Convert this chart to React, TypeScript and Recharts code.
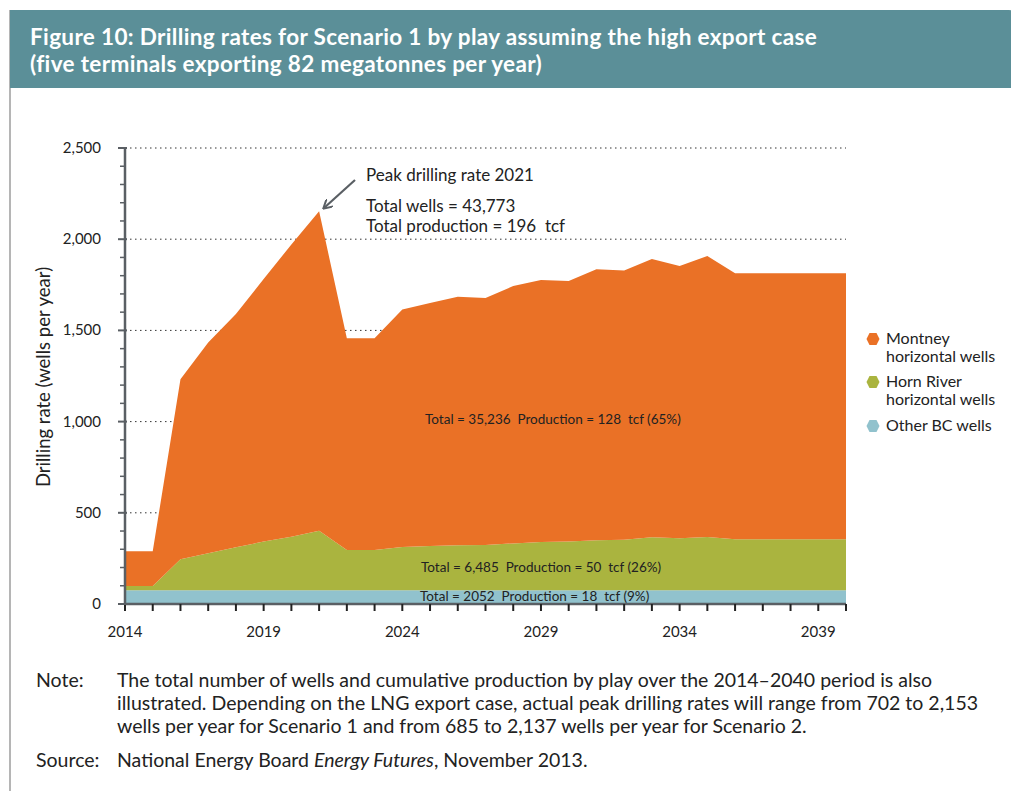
import React from 'react';
import { AreaChart, Area, XAxis, YAxis, CartesianGrid } from 'recharts';

// Drilling rate by play, wells per year
const years = [
  2014, 2015, 2016, 2017, 2018, 2019, 2020, 2021, 2022, 2023, 2024, 2025, 2026, 2027,
  2028, 2029, 2030, 2031, 2032, 2033, 2034, 2035, 2036, 2037, 2038, 2039, 2040,
];
const otherBC = [
  76, 76, 76, 76, 76, 76, 76, 76, 76, 76, 76, 76, 76, 76,
  76, 76, 76, 76, 76, 76, 76, 76, 76, 76, 76, 76, 76,
];
const hornRiver = [
  23, 23, 169, 202, 235, 266, 293, 326, 220, 220, 236, 242, 246, 248,
  256, 264, 266, 274, 276, 290, 284, 292, 279, 279, 279, 279, 279,
];
const montney = [
  190, 190, 987, 1155, 1279, 1440, 1602, 1751, 1161, 1161, 1303, 1332, 1363, 1354,
  1411, 1436, 1429, 1485, 1477, 1525, 1493, 1540, 1458, 1458, 1458, 1458, 1458,
];

const xLabels = [2014, 2019, 2024, 2029, 2034, 2039];
const yTicks = Array.from({ length: 26 }, (_, i) => i * 100);
const gridValues = [500, 1000, 1500, 2000, 2500];

const noteLines = [
  'The total number of wells and cumulative production by play over the 2014–2040 period is also',
  'illustrated. Depending on the LNG export case, actual peak drilling rates will range from 702 to 2,153',
  'wells per year for Scenario 1 and from 685 to 2,137 wells per year for Scenario 2.',
];

const ORANGE = '#EA7126';
const GREEN = '#AAB43F';
const BLUE = '#91C2CD';
const AXIS = '#5A5F64';
const TEAL = '#5B8F98';
const FONT = 'Lato, "Noto Sans", sans-serif';

const data = years.map((year, i) => ({
  year,
  other: otherBC[i],
  horn: hornRiver[i],
  montney: montney[i],
}));

const YTick = (props: any) => {
  const { x, y, payload } = props;
  const v = payload.value as number;
  const major = v % 500 === 0;
  return (
    <g>
      <line
        x1={x - (major ? 7 : 5)}
        x2={x + (major ? 2 : 0)}
        y1={y}
        y2={y}
        stroke={AXIS}
        strokeWidth={major ? 2 : 1.5}
      />
      {major && (
        <text x={x - 24} y={y} dy={5} textAnchor="end" fontSize={15} fill="#222" fontFamily={FONT}>
          {v.toLocaleString('en-US')}
        </text>
      )}
    </g>
  );
};

const XTick = (props: any) => {
  const { x, y, payload } = props;
  const v = payload.value as number;
  return (
    <g>
      <line x1={x} x2={x} y1={y} y2={y + 7} stroke="#222" strokeWidth={2} />
      {xLabels.includes(v) && (
        <text x={x} y={y + 33} textAnchor="middle" fontSize={15} fill="#222" fontFamily={FONT}>
          {v}
        </text>
      )}
    </g>
  );
};

const Hex = ({ color }: { color: string }) => (
  <svg width={14} height={14} viewBox="0 0 14 14" style={{ position: 'absolute', left: 0, top: 3 }}>
    <polygon points="3.5,1 10.5,1 13.5,7 10.5,13 3.5,13 0.5,7" fill={color} />
  </svg>
);

const legendItems = [
  { label: ['Montney', 'horizontal wells'], color: ORANGE, top: 321 },
  { label: ['Horn River', 'horizontal wells'], color: GREEN, top: 364 },
  { label: ['Other BC wells'], color: BLUE, top: 408 },
];

export default function App() {
  return (
    <div
      style={{
        position: 'relative',
        width: 1011,
        height: 783,
        fontFamily: FONT,
        color: '#222',
        overflow: 'hidden',
      }}
    >
      {/* frame line */}
      <div style={{ position: 'absolute', left: 1, top: 2, width: 1.5, height: 781, background: '#b5b5b5' }} />
      {/* title band */}
      <div
        style={{
          position: 'absolute',
          left: 2,
          top: 2,
          width: 1009,
          height: 78,
          background: TEAL,
          borderTopRightRadius: 10,
          color: '#fff',
          fontWeight: 700,
          fontSize: 22.5,
          letterSpacing: 0.35,
          lineHeight: '27px',
          padding: '13px 0 0 20px',
          boxSizing: 'border-box',
          whiteSpace: 'nowrap',
        }}
      >
        <div>Figure 10: Drilling rates for Scenario 1 by play assuming the high export case</div>
        <div>(five terminals exporting 82 megatonnes per year)</div>
      </div>

      <div style={{ position: 'absolute', left: 0, top: 0 }}>
        <AreaChart width={1011} height={700} data={data} margin={{ top: 140, right: 173, bottom: 74, left: 0 }}>
          <CartesianGrid
            horizontal
            vertical={false}
            horizontalValues={gridValues}
            stroke="#333"
            strokeDasharray="1.5 3.5"
          />
          <XAxis
            dataKey="year"
            type="number"
            domain={[2014, 2040]}
            ticks={years}
            interval={0}
            height={30}
            tickSize={0}
            tickMargin={0}
            tickLine={false}
            axisLine={{ stroke: AXIS, strokeWidth: 2.5 }}
            tick={<XTick />}
          />
          <YAxis
            type="number"
            domain={[0, 2500]}
            ticks={yTicks}
            interval={0}
            width={117}
            tickSize={0}
            tickMargin={0}
            tickLine={false}
            axisLine={{ stroke: AXIS, strokeWidth: 2.5 }}
            tick={<YTick />}
          />
          <Area
            type="linear"
            dataKey="other"
            stackId="a"
            stroke="none"
            fill={BLUE}
            fillOpacity={1}
            isAnimationActive={false}
          />
          <Area
            type="linear"
            dataKey="horn"
            stackId="a"
            stroke="none"
            fill={GREEN}
            fillOpacity={1}
            isAnimationActive={false}
          />
          <Area
            type="linear"
            dataKey="montney"
            stackId="a"
            stroke="none"
            fill={ORANGE}
            fillOpacity={1}
            isAnimationActive={false}
          />
        </AreaChart>
      </div>

      {/* y axis title */}
      <div style={{ position: 'absolute', left: 35, top: 369, width: 0, height: 0 }}>
        <div
          style={{
            position: 'absolute',
            transform: 'translate(-50%, -50%) rotate(-90deg)',
            whiteSpace: 'nowrap',
            fontSize: 18.5,
          }}
        >
          Drilling rate (wells per year)
        </div>
      </div>

      {/* peak annotation */}
      <svg width={1011} height={700} style={{ position: 'absolute', left: 0, top: 0, pointerEvents: 'none' }}>
        <defs>
          <marker id="ah" markerWidth="10" markerHeight="10" refX="8" refY="5" orient="auto" markerUnits="userSpaceOnUse">
            <path d="M0,0 L9,5 L0,10" fill="none" stroke={AXIS} strokeWidth={2} />
          </marker>
        </defs>
        <line x1={347} y1={172} x2={316} y2={200} stroke={AXIS} strokeWidth={2.2} markerEnd="url(#ah)" />
      </svg>
      <div style={{ position: 'absolute', left: 358, top: 156, fontSize: 17, whiteSpace: 'nowrap' }}>
        Peak drilling rate 2021
      </div>
      <div style={{ position: 'absolute', left: 358, top: 188, fontSize: 17, lineHeight: '20px', whiteSpace: 'nowrap' }}>
        <div>Total wells = 43,773</div>
        <div>Total production = 196&nbsp; tcf</div>
      </div>

      {/* in-area totals */}
      <div style={{ position: 'absolute', left: 417, top: 403, fontSize: 13.5, whiteSpace: 'nowrap' }}>
        Total = 35,236&nbsp; Production = 128&nbsp; tcf (65%)
      </div>
      <div style={{ position: 'absolute', left: 413, top: 551, fontSize: 13.5, whiteSpace: 'nowrap' }}>
        Total = 6,485&nbsp; Production = 50&nbsp; tcf (26%)
      </div>
      <div style={{ position: 'absolute', left: 412, top: 580, fontSize: 13.5, whiteSpace: 'nowrap' }}>
        Total = 2052&nbsp; Production = 18&nbsp; tcf (9%)
      </div>

      {/* legend */}
      {legendItems.map((it) => (
        <div key={it.label[0]} style={{ position: 'absolute', left: 858, top: it.top, paddingLeft: 20, fontSize: 16, lineHeight: '17.5px' }}>
          <Hex color={it.color} />
          {it.label.map((l) => (
            <div key={l} style={{ whiteSpace: 'nowrap' }}>{l}</div>
          ))}
        </div>
      ))}

      {/* note and source */}
      <div style={{ position: 'absolute', left: 28, top: 660, fontSize: 19.5, lineHeight: '23px', whiteSpace: 'nowrap' }}>
        <div style={{ display: 'flex' }}>
          <div style={{ width: 81 }}>Note:</div>
          <div>
            {noteLines.map((l) => (
              <div key={l}>{l}</div>
            ))}
          </div>
        </div>
        <div style={{ display: 'flex', marginTop: 11 }}>
          <div style={{ width: 81 }}>Source:</div>
          <div>
            National Energy Board <i>Energy Futures</i>, November 2013.
          </div>
        </div>
      </div>
    </div>
  );
}
